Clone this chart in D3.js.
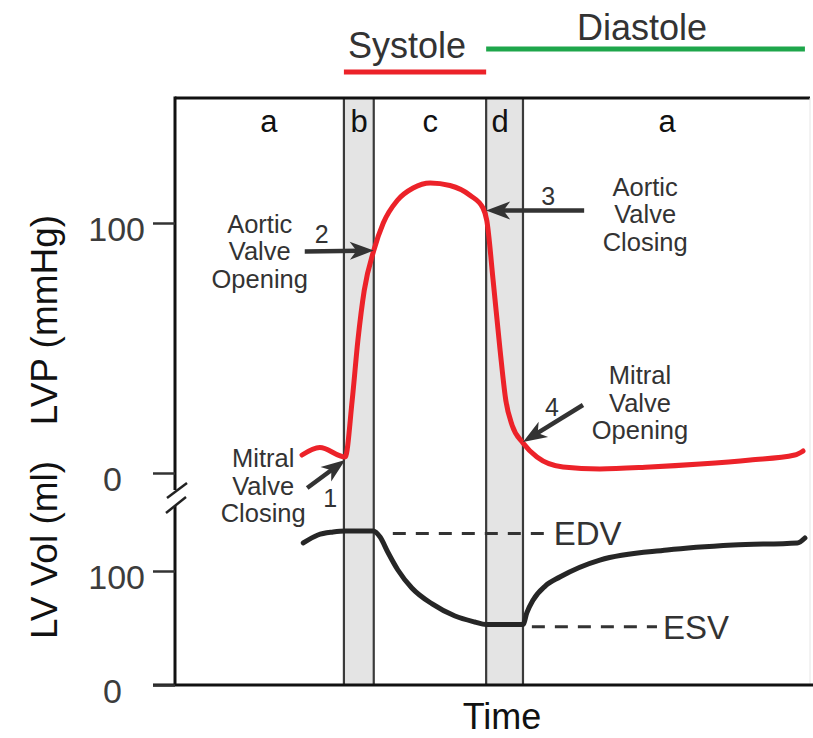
<!DOCTYPE html>
<html><head><meta charset="utf-8">
<script src="https://cdn.jsdelivr.net/npm/d3@7"></script>
<style>body{margin:0;background:#fff}svg{display:block}</style>
</head><body><svg id="c" width="813" height="738"></svg>
<script>
// ---- data ----
const phaseNames = ["a", "b", "c", "d", "a"];
const phaseStart = [0, 26.6, 31.3, 49.0, 54.8];
const phaseEnd = [26.6, 31.3, 49.0, 54.8, 100];
const phaseLabelT = [14.8, 29.0, 40.2, 51.2, 77.5];
const shaded = [false, true, false, true, false];

const pressureT = [20.0, 22.8, 26.8, 27.9, 28.8, 29.8, 31.3, 32.8, 35.0, 37.5, 40.2, 43.3, 46.5, 48.5, 49.1, 50.1, 51.2, 52.1, 53.1, 54.8, 57.0, 61.1, 66.9, 74.8, 82.7, 90.6, 97.6, 98.9];
const pressureVals = [7.2, 10.2, 6.4, 29, 53, 73, 89, 100, 109, 114, 116, 115, 111, 106, 101, 77, 49, 29, 19, 12, 6.4, 2.4, 1.6, 2.4, 3.6, 5.2, 7.2, 8.8];

const volumeT = [20.2, 22.5, 24.9, 26.8, 31.2, 32.3, 33.5, 35.1, 37.3, 40.5, 44.1, 47.2, 49.0, 54.8, 55.4, 56.4, 58.3, 60.6, 66.9, 77.5, 87.9, 98.0, 99.2];
const volumeVals = [124.6, 131.6, 134.2, 135.1, 135.1, 129.8, 116.7, 100.9, 85.1, 71.1, 60.5, 55.3, 53, 53, 63.2, 74.6, 86.8, 94.7, 109.6, 118.4, 122.8, 124.6, 129];

const pressureTicks = [0, 100];
const volumeTicks = [0, 100];
const EDV = 133, ESV = 51;
const edvSpan = [34.3, 58.7];
const esvSpan = [56.2, 75.9];

const eventNum = ["1", "2", "3", "4"];
const eventText = [["Mitral", "Valve", "Closing"], ["Aortic", "Valve", "Opening"], ["Aortic", "Valve", "Closing"], ["Mitral", "Valve", "Opening"]];
const eventT = [26.8, 31.3, 49.0, 54.8];
const eventP = [5.2, 89, 105, 12.4];

const phaseTitles = ["Systole", "Diastole"];

// ---- layout ----
const svg = d3.select("#c");
const font = "'Liberation Sans', Arial, Helvetica, sans-serif";
const x = d3.scaleLinear().domain([0, 100]).range([175, 810]);
const yP = d3.scaleLinear().domain([0, 100]).range([473, 223]);
const yV = d3.scaleLinear().domain([0, 100]).range([685, 571]);
const topY = 98, bottomY = 685;

// bands
phaseNames.forEach((n, i) => {
  if (shaded[i]) {
    svg.append("rect").attr("x", x(phaseStart[i])).attr("y", topY)
      .attr("width", x(phaseEnd[i]) - x(phaseStart[i])).attr("height", bottomY - topY)
      .attr("fill", "#e4e4e4");
    [phaseStart[i], phaseEnd[i]].forEach(t => {
      svg.append("line").attr("x1", x(t)).attr("x2", x(t)).attr("y1", topY).attr("y2", bottomY)
        .attr("stroke", "#3a3a3a").attr("stroke-width", 2.2);
    });
  }
  svg.append("text").attr("x", x(phaseLabelT[i])).attr("y", 132)
    .attr("text-anchor", "middle").attr("font-family", font).attr("font-size", 31)
    .attr("fill", "#111").text(n);
});

// frame
svg.append("line").attr("x1", 175).attr("x2", 810).attr("y1", topY).attr("y2", topY)
  .attr("stroke", "#111").attr("stroke-width", 3);
svg.append("line").attr("x1", 810).attr("x2", 810).attr("y1", topY).attr("y2", bottomY)
  .attr("stroke", "#e6e6e6").attr("stroke-width", 1);
svg.append("line").attr("x1", 153).attr("x2", 813).attr("y1", bottomY).attr("y2", bottomY)
  .attr("stroke", "#111").attr("stroke-width", 3);
svg.append("line").attr("x1", 175).attr("x2", 175).attr("y1", topY - 1.5).attr("y2", 490)
  .attr("stroke", "#111").attr("stroke-width", 3);
svg.append("line").attr("x1", 175).attr("x2", 175).attr("y1", 506).attr("y2", bottomY)
  .attr("stroke", "#111").attr("stroke-width", 3);
// break marks
[[167, 498, 187, 483], [166, 513, 186, 497]].forEach(d => {
  svg.append("line").attr("x1", d[0]).attr("y1", d[1]).attr("x2", d[2]).attr("y2", d[3])
    .attr("stroke", "#222").attr("stroke-width", 2.5);
});

// axes
function styleAxis(g) {
  g.select(".domain").remove();
  g.selectAll(".tick line").attr("stroke", "#333").attr("stroke-width", 2.5);
  g.selectAll(".tick text").attr("font-family", font).attr("font-size", 34)
    .attr("fill", "#3c3c3c").attr("dy", "0.5em")
    .attr("x", d => d === 0 ? -53 : -30);
}
svg.append("g").attr("transform", "translate(175,0)")
  .call(d3.axisLeft(yP).tickValues(pressureTicks).tickSize(22).tickSizeOuter(0))
  .call(styleAxis);
svg.append("g").attr("transform", "translate(175,0)")
  .call(d3.axisLeft(yV).tickValues(volumeTicks).tickSize(22).tickSizeOuter(0))
  .call(styleAxis);

// axis titles
svg.append("text").attr("transform", "translate(57,320) rotate(-90)")
  .attr("text-anchor", "middle").attr("font-family", font).attr("font-size", 37)
  .attr("fill", "#111").text("LVP (mmHg)");
svg.append("text").attr("transform", "translate(57,550) rotate(-90)")
  .attr("text-anchor", "middle").attr("font-family", font).attr("font-size", 37)
  .attr("fill", "#111").text("LV Vol (ml)");
svg.append("text").attr("x", 502).attr("y", 729).attr("text-anchor", "middle")
  .attr("font-family", font).attr("font-size", 36).attr("fill", "#111").text("Time");

// dashed reference lines
[[EDV, edvSpan, "EDV"], [ESV, esvSpan, "ESV"]].forEach(([v, span, lab]) => {
  svg.append("line").attr("x1", x(span[0])).attr("x2", x(span[1]))
    .attr("y1", yV(v)).attr("y2", yV(v))
    .attr("stroke", "#333").attr("stroke-width", 3).attr("stroke-dasharray", "13,10");
  svg.append("text").attr("x", x(span[1]) + 6).attr("y", yV(v)).attr("dy", "0.36em")
    .attr("font-family", font).attr("font-size", 33).attr("fill", "#333").text(lab);
});

// curves
const lineP = d3.line().x((d, i) => x(pressureT[i])).y(d => yP(d)).curve(d3.curveMonotoneX);
svg.append("path").attr("d", lineP(pressureVals)).attr("fill", "none")
  .attr("stroke", "#ec2229").attr("stroke-width", 5).attr("stroke-linecap", "round").attr("stroke-linejoin", "round");
const lineV = d3.line().x((d, i) => x(volumeT[i])).y(d => yV(d)).curve(d3.curveMonotoneX);
svg.append("path").attr("d", lineV(volumeVals)).attr("fill", "none")
  .attr("stroke", "#262626").attr("stroke-width", 5).attr("stroke-linecap", "round").attr("stroke-linejoin", "round");

// annotations
const tailOff = [[-38, 28], [-69, 1], [98, 0], [60, -37]];
const numOff = [[-15, 38], [-52, -17], [62, -15], [29, -35]];
const textOff = [[-82, -2], [-114, -27], [159, -24], [117, -67]];
function arrow(x1, y1, x2, y2) {
  const dx = x2 - x1, dy = y2 - y1, len = Math.hypot(dx, dy);
  const ux = dx / len, uy = dy / len, L = 24, W = 9;
  const bx = x2 - ux * L, by = y2 - uy * L;
  svg.append("line").attr("x1", x1).attr("y1", y1).attr("x2", x2 - ux * 14).attr("y2", y2 - uy * 14)
    .attr("stroke", "#333").attr("stroke-width", 4.5);
  const pts = [[x2, y2], [bx - uy * W, by + ux * W], [x2 - ux * L * 0.72, y2 - uy * L * 0.72], [bx + uy * W, by - ux * W]];
  svg.append("path").attr("d", "M" + pts.map(p => p.join(",")).join("L") + "Z").attr("fill", "#333");
}
eventNum.forEach((n, i) => {
  const tx = x(eventT[i]), ty = yP(eventP[i]);
  arrow(tx + tailOff[i][0], ty + tailOff[i][1], tx, ty);
  svg.append("text").attr("x", tx + numOff[i][0]).attr("y", ty + numOff[i][1]).attr("dy", "0.36em")
    .attr("text-anchor", "middle").attr("font-family", font).attr("font-size", 25).attr("fill", "#333").text(n);
  eventText[i].forEach((s, j) => {
    svg.append("text").attr("x", tx + textOff[i][0]).attr("y", ty + textOff[i][1] + j * 27.5).attr("dy", "0.36em")
      .attr("text-anchor", "middle").attr("font-family", font).attr("font-size", 25.5).attr("fill", "#333").text(s);
  });
});

// systole / diastole bars
svg.append("line").attr("x1", x(phaseStart[1])).attr("x2", x(phaseStart[3]))
  .attr("y1", 72).attr("y2", 72).attr("stroke", "#ec2229").attr("stroke-width", 5);
svg.append("line").attr("x1", x(phaseStart[3])).attr("x2", x(99.2))
  .attr("y1", 49).attr("y2", 49).attr("stroke", "#1ea64b").attr("stroke-width", 5);
svg.append("text").attr("x", 407).attr("y", 58).attr("text-anchor", "middle")
  .attr("font-family", font).attr("font-size", 36).attr("fill", "#333").text(phaseTitles[0]);
svg.append("text").attr("x", 642).attr("y", 40).attr("text-anchor", "middle")
  .attr("font-family", font).attr("font-size", 36).attr("fill", "#333").text(phaseTitles[1]);
</script></body></html>
